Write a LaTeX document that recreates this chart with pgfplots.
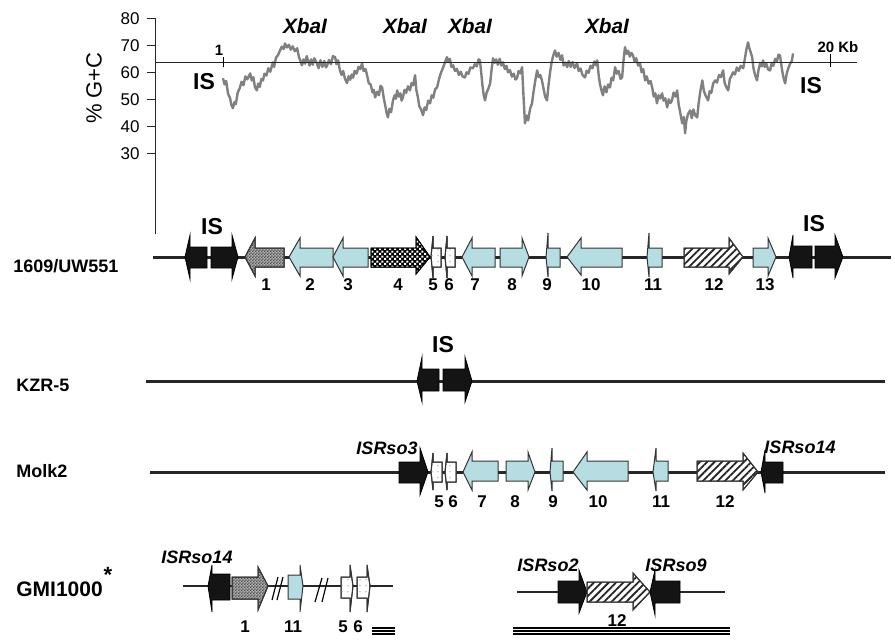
\documentclass[border=0pt]{standalone}
\usepackage{fontspec}
\setmainfont{Liberation Sans}
\usepackage{pgfplots}
\pgfplotsset{compat=1.18}
\usetikzlibrary{patterns,patterns.meta}
\definecolor{lblue}{RGB}{182,222,226}
\definecolor{gctrace}{RGB}{128,128,128}
\pgfdeclarepatternformonly{wcheck}{\pgfpointorigin}{\pgfqpoint{2.4pt}{2.4pt}}{\pgfqpoint{2.4pt}{2.4pt}}{%
  \pgfpathrectangle{\pgfpointorigin}{\pgfqpoint{1.1pt}{1.1pt}}%
  \pgfpathrectangle{\pgfqpoint{1.2pt}{1.2pt}}{\pgfqpoint{1.1pt}{1.1pt}}%
  \pgfusepath{fill}}
\pgfdeclarepatternformonly{fcheck}{\pgfpointorigin}{\pgfqpoint{1.4pt}{1.4pt}}{\pgfqpoint{1.4pt}{1.4pt}}{%
  \pgfpathrectangle{\pgfpointorigin}{\pgfqpoint{0.7pt}{0.7pt}}%
  \pgfpathrectangle{\pgfqpoint{0.7pt}{0.7pt}}{\pgfqpoint{0.7pt}{0.7pt}}%
  \pgfusepath{fill}}
% gene arrow: style, x tail, x head base, x tip, y head top, y body top, y centre, y body bottom, y head bottom
\newcommand{\gene}[9]{\addplot[#1] coordinates {(#2,#6) (#3,#6) (#3,#5) (#4,#7) (#3,#9) (#3,#8) (#2,#8)} -- cycle;}
\tikzset{
 isel/.style={fill=black!92, draw=black, line width=0.4pt},
 blu/.style={fill=lblue, draw=black!80, line width=0.5pt},
 chk/.style={draw=black, line width=0.5pt, preaction={fill=black}, pattern=wcheck, pattern color=white},
 grychk/.style={draw=black!80, line width=0.5pt, preaction={fill=gray!60}, pattern=fcheck, pattern color=black!70},
 dotw/.style={draw=black!80, line width=0.5pt, preaction={fill=white}, pattern=dots, pattern color=gray!40},
 hat/.style={draw=black!80, line width=0.5pt, preaction={fill=white}, pattern={Lines[angle=45,distance=2.6pt,line width=0.9pt]}, pattern color=black!85},
 rowlab/.style={anchor=west, inner sep=0pt, font=\bfseries\fontsize{9}{11}\selectfont},
 num/.style={font=\bfseries\fontsize{8.5}{10}\selectfont},
 isl/.style={font=\bfseries\fontsize{11.5}{13}\selectfont},
 isr/.style={font=\bfseries\itshape\fontsize{9}{11}\selectfont},
}
\pgfplotstableread{
kb gc
1.00 57.8
1.05 55.5
1.10 56.8
1.16 52.0
1.22 50.5
1.26 48.0
1.31 46.7
1.36 49.0
1.40 48.2
1.46 52.5
1.52 54.0
1.58 56.5
1.64 55.2
1.70 58.5
1.76 57.4
1.85 59.6
1.90 57.0
1.95 58.2
2.00 54.5
2.06 53.3
2.10 55.8
2.15 54.6
2.20 57.5
2.25 57.0
2.30 59.5
2.36 58.8
2.42 61.5
2.48 60.2
2.56 63.7
2.60 62.0
2.66 65.5
2.72 66.3
2.78 68.0
2.84 69.5
2.90 68.6
2.94 70.7
3.00 69.2
3.06 70.2
3.12 68.4
3.18 69.6
3.25 67.8
3.32 68.9
3.38 65.5
3.43 64.0
3.47 62.6
3.52 64.8
3.57 63.2
3.62 66.0
3.66 64.4
3.71 62.5
3.76 64.8
3.81 62.8
3.86 65.2
3.94 63.3
3.99 61.5
4.05 64.5
4.11 62.0
4.17 64.2
4.22 61.8
4.26 62.6
4.32 64.6
4.38 63.0
4.44 66.0
4.51 65.6
4.55 63.0
4.60 64.5
4.66 60.7
4.71 59.0
4.76 60.5
4.82 57.5
4.88 56.0
4.93 58.6
4.98 57.2
5.03 59.2
5.07 58.0
5.12 60.5
5.18 59.5
5.24 62.0
5.30 61.2
5.35 63.3
5.40 60.5
5.46 61.2
5.51 58.9
5.56 56.0
5.62 55.5
5.68 52.5
5.72 53.5
5.76 50.7
5.82 52.8
5.88 51.5
5.93 55.0
5.98 54.4
6.03 50.5
6.08 47.5
6.12 45.0
6.16 43.3
6.21 46.5
6.26 45.2
6.32 49.6
6.37 51.5
6.41 50.2
6.45 53.3
6.50 51.0
6.55 52.2
6.59 49.5
6.63 50.7
6.68 53.5
6.73 52.4
6.79 54.8
6.85 53.3
6.90 56.0
6.95 55.2
7.01 58.9
7.05 53.5
7.10 50.7
7.14 47.5
7.20 46.2
7.26 44.1
7.31 47.0
7.36 46.0
7.42 49.5
7.48 48.5
7.53 51.5
7.58 50.6
7.64 53.8
7.70 54.4
7.76 57.5
7.82 59.8
7.88 61.5
7.94 63.5
8.01 65.6
8.05 63.8
8.10 65.0
8.15 62.0
8.20 62.6
8.26 60.5
8.32 61.3
8.38 59.0
8.44 60.2
8.50 58.4
8.57 58.1
8.62 60.0
8.68 59.4
8.74 61.8
8.82 61.5
8.88 63.0
8.94 62.2
9.00 64.8
9.04 64.4
9.08 60.0
9.12 55.0
9.16 51.5
9.20 49.6
9.25 52.5
9.30 53.8
9.36 55.9
9.40 60.5
9.45 65.2
9.50 63.5
9.55 64.8
9.60 62.8
9.66 65.0
9.71 62.5
9.76 63.7
9.82 61.2
9.87 62.4
9.92 60.0
9.98 60.8
10.04 58.4
10.10 59.5
10.15 57.3
10.20 57.8
10.25 60.5
10.30 59.6
10.36 61.9
10.40 52.0
10.45 41.1
10.50 44.0
10.55 42.2
10.61 46.5
10.67 48.5
10.72 53.0
10.78 57.5
10.83 60.7
10.88 58.2
10.93 59.0
10.98 57.0
11.03 54.0
11.08 51.0
11.14 49.6
11.18 54.5
11.23 59.6
11.28 63.5
11.33 66.0
11.39 68.1
11.44 65.8
11.50 67.2
11.56 64.6
11.61 66.3
11.66 62.5
11.72 63.6
11.77 61.9
11.82 64.2
11.88 62.0
11.94 63.8
12.00 61.6
12.08 63.3
12.13 60.5
12.19 61.4
12.25 59.0
12.33 58.1
12.38 60.6
12.44 59.8
12.50 62.4
12.56 61.5
12.62 64.0
12.67 62.6
12.71 64.4
12.76 58.5
12.80 55.5
12.85 53.0
12.89 51.5
12.94 54.8
13.00 52.6
13.05 55.5
13.11 54.4
13.16 58.0
13.21 57.0
13.27 61.9
13.32 59.5
13.38 60.5
13.44 57.6
13.49 58.1
13.53 64.0
13.58 69.3
13.63 66.8
13.68 68.0
13.73 65.8
13.78 67.2
13.83 66.3
13.88 64.0
13.93 65.2
13.99 62.5
14.05 63.3
14.10 60.0
14.15 61.2
14.21 57.0
14.26 58.5
14.32 55.8
14.38 56.8
14.43 54.4
14.48 51.0
14.53 52.2
14.58 48.5
14.63 51.5
14.68 50.3
14.74 52.2
14.79 49.5
14.84 50.4
14.90 47.0
14.95 50.0
15.00 48.6
15.05 49.6
15.10 52.5
15.16 51.0
15.21 53.3
15.26 48.0
15.31 45.0
15.37 41.1
15.42 43.5
15.46 37.4
15.50 42.0
15.55 44.5
15.62 45.9
15.67 43.0
15.72 46.2
15.78 44.0
15.84 43.3
15.88 48.0
15.93 52.5
16.00 57.0
16.05 53.0
16.10 51.5
16.18 49.6
16.23 53.0
16.28 52.4
16.34 55.9
16.40 57.0
16.46 56.2
16.52 59.0
16.58 58.2
16.65 60.7
16.70 56.0
16.75 54.5
16.81 53.3
16.86 57.5
16.91 58.6
16.96 60.0
17.02 59.2
17.08 61.8
17.14 60.5
17.20 62.4
17.28 61.5
17.33 65.0
17.38 68.5
17.43 71.1
17.47 69.0
17.51 67.5
17.56 65.6
17.60 61.5
17.65 59.0
17.71 57.0
17.76 61.0
17.81 63.5
17.86 62.2
17.90 64.4
17.95 62.0
18.00 63.2
18.06 61.0
18.12 60.7
18.17 63.5
18.22 62.4
18.28 65.0
18.33 63.8
18.38 66.5
18.43 66.3
18.48 62.0
18.53 58.5
18.59 55.9
18.64 59.5
18.69 61.5
18.75 63.3
18.80 64.2
18.84 67.0
}\gcdata
\begin{document}
\begin{tikzpicture}
% ---------- gene maps, in picture pixel units ----------
\begin{axis}[name=base, at={(0pt,0pt)}, anchor=south west, scale only axis,
  width=447.5pt, height=319pt, xmin=0, xmax=895, ymin=0, ymax=638,
  y dir=reverse, hide axis, clip=false]
\addplot[draw=none] coordinates {(0,0) (895,638)};
% backbone lines
\addplot[black!85, line width=1.5pt] coordinates {(153,257) (891,257)};
\addplot[black!85, line width=1.5pt] coordinates {(146,381) (885,381)};
\addplot[black!85, line width=1.5pt] coordinates {(150,472) (885,472)};
\addplot[black!85, line width=1pt] coordinates {(183,586) (393,586)};
\addplot[black!85, line width=1pt] coordinates {(517,592) (725,592)};
% triple scale lines
\addplot[black, line width=0.7pt] coordinates {(372,628) (395,628)};
\addplot[black, line width=0.7pt] coordinates {(372,631) (395,631)};
\addplot[black, line width=0.7pt] coordinates {(372,634) (395,634)};
\addplot[black, line width=0.7pt] coordinates {(513,628) (730,628)};
\addplot[black, line width=0.7pt] coordinates {(513,631) (730,631)};
\addplot[black, line width=0.7pt] coordinates {(513,634) (730,634)};
% row 1: 1609/UW551
\gene{isel}{207}{190}{185}{235}{247}{257}{268}{279}
\gene{isel}{211}{232}{238}{235}{247}{257}{268}{279}
\gene{grychk}{284}{255}{245}{238}{248}{257}{267}{276}
\gene{blu}{333}{300}{289}{238}{248}{257}{267}{276}
\gene{blu}{368}{343}{333}{238}{248}{257}{267}{276}
\gene{chk}{371}{416}{430}{237}{248}{257}{267}{274}
\gene{dotw}{441}{433}{431}{236}{248}{257}{267}{278}
\gene{dotw}{455}{447}{445}{236}{248}{257}{267}{278}
\gene{blu}{495}{472}{462}{238}{248}{257}{267}{276}
\gene{blu}{500}{522}{529}{238}{248}{257}{267}{276}
\gene{blu}{560}{548}{546}{233}{248}{257}{267}{277}
\gene{blu}{622}{581}{567}{238}{248}{257}{267}{275}
\gene{blu}{662}{649}{647}{233}{248}{257}{267}{277}
\gene{hat}{684}{729}{743}{238}{248}{257}{267}{274}
\gene{blu}{753}{768}{776}{238}{248}{257}{267}{276}
\gene{isel}{812}{793}{789}{235}{246}{257}{268}{278}
\gene{isel}{815}{835}{843}{235}{246}{257}{268}{278}
% row 2: KZR-5
\gene{isel}{439}{422}{417}{357}{369}{381}{391}{402}
\gene{isel}{443}{465}{472}{357}{369}{381}{391}{402}
% row 3: Molk2
\gene{isel}{399}{420}{428}{448}{462}{472}{483}{495}
\gene{dotw}{442}{433}{431}{453}{462}{472}{482}{490}
\gene{dotw}{456}{447}{445}{453}{462}{472}{482}{490}
\gene{blu}{498}{472}{463}{452}{461}{472}{481}{490}
\gene{blu}{506}{528}{535}{452}{461}{472}{481}{490}
\gene{blu}{563}{552}{550}{448}{461}{472}{481}{491}
\gene{blu}{628}{587}{573}{452}{461}{472}{481}{490}
\gene{blu}{668}{656}{653}{448}{461}{472}{481}{491}
\gene{hat}{697}{743}{758}{453}{461}{472}{481}{490}
\gene{isel}{783}{765}{761}{450}{462}{472}{483}{493}
% row 4: GMI1000
\gene{isel}{230}{212}{208}{565}{574}{586}{600}{612}
\gene{grychk}{232}{258}{268}{567}{577}{586}{599}{610}
\gene{blu}{288}{300}{303}{565}{575}{586}{599}{612}
\gene{dotw}{341}{350}{353}{565}{577}{586}{598}{612}
\gene{dotw}{357}{367}{370}{565}{577}{586}{598}{612}
\addplot[black, line width=0.6pt] coordinates {(272,600) (278,577)};
\addplot[black, line width=0.6pt] coordinates {(277,600) (283,577)};
\addplot[black, line width=0.6pt] coordinates {(315,602) (322,578)};
\addplot[black, line width=0.6pt] coordinates {(322,602) (328,578)};
\gene{isel}{558}{579}{587}{570}{581}{592}{603}{613}
\gene{hat}{587}{633}{650}{573}{582}{592}{602}{610}
\gene{isel}{680}{655}{650}{570}{581}{592}{603}{615}
% ---------- text ----------
\node[rotate=90, font=\fontsize{11}{13}\selectfont] at (axis cs:94,88) {\% G+C};
\node[font=\bfseries\itshape\fontsize{10.4}{12}\selectfont] at (axis cs:305,26) {XbaI};
\node[font=\bfseries\itshape\fontsize{10.4}{12}\selectfont] at (axis cs:405,26) {XbaI};
\node[font=\bfseries\itshape\fontsize{10.4}{12}\selectfont] at (axis cs:470,26) {XbaI};
\node[font=\bfseries\itshape\fontsize{10.4}{12}\selectfont] at (axis cs:607,26) {XbaI};
\node[font=\bfseries\fontsize{7.5}{9}\selectfont] at (axis cs:219,50) {1};
\node[font=\bfseries\fontsize{7.5}{9}\selectfont] at (axis cs:838,47) {20 Kb};
\node[isl] at (axis cs:204,82) {IS};
\node[isl] at (axis cs:811,86) {IS};
\node[isl] at (axis cs:212,227) {IS};
\node[isl] at (axis cs:814,224) {IS};
\node[isl] at (axis cs:443,345) {IS};
\node[rowlab] at (axis cs:13,266) {1609/UW551};
\node[rowlab] at (axis cs:16,385) {KZR-5};
\node[rowlab] at (axis cs:16,471) {Molk2};
\node[rowlab, font=\bfseries\fontsize{10.5}{12}\selectfont] at (axis cs:16,589) {GMI1000};
\node[font=\bfseries\fontsize{11}{12}\selectfont] at (axis cs:108,575) {*};
\node[num] at (axis cs:266,285) {1};
\node[num] at (axis cs:310,285) {2};
\node[num] at (axis cs:348,285) {3};
\node[num] at (axis cs:398,285) {4};
\node[num] at (axis cs:433,285) {5};
\node[num] at (axis cs:449,285) {6};
\node[num] at (axis cs:475,285) {7};
\node[num] at (axis cs:512,285) {8};
\node[num] at (axis cs:547,285) {9};
\node[num] at (axis cs:591,285) {10};
\node[num] at (axis cs:653,285) {11};
\node[num] at (axis cs:714,285) {12};
\node[num] at (axis cs:765,285) {13};
\node[num] at (axis cs:439,502) {5};
\node[num] at (axis cs:453,502) {6};
\node[num] at (axis cs:482,502) {7};
\node[num] at (axis cs:515,502) {8};
\node[num] at (axis cs:553,502) {9};
\node[num] at (axis cs:598,502) {10};
\node[num] at (axis cs:661,502) {11};
\node[num] at (axis cs:725,502) {12};
\node[isr] at (axis cs:387,448) {ISRso3};
\node[isr] at (axis cs:800,447) {ISRso14};
\node[isr] at (axis cs:197,557) {ISRso14};
\node[isr] at (axis cs:548,565) {ISRso2};
\node[isr] at (axis cs:676,565) {ISRso9};
\node[num] at (axis cs:245,627) {1};
\node[num] at (axis cs:293,627) {11};
\node[num] at (axis cs:343,627) {5};
\node[num] at (axis cs:358,627) {6};
\node[num] at (axis cs:617,621) {12};
\end{axis}
% ---------- G+C profile ----------
\begin{axis}[at={(77.85pt,201.85pt)}, anchor=south west, scale only axis,
  width=350.65pt, height=108pt, xmin=-1.106, xmax=20.84, ymin=0, ymax=80,
  axis x line=none, axis y line*=left, ytick={30,40,50,60,70,80},
  tick align=outside, major tick length=4.5pt,
  y axis line style={line width=0.6pt, black!85},
  ytick style={line width=0.6pt, black!85},
  yticklabel style={font=\fontsize{8.5}{10}\selectfont},
  /pgf/number format/assume math mode=true, clip=false]
\addplot[gctrace, line width=1.2pt, line join=round] table[x=kb, y=gc] {\gcdata};
\addplot[black!85, line width=0.6pt] coordinates {(-1.106,63.7) (20.84,63.7)};
\addplot[black, line width=0.5pt] coordinates {(1,61.8) (1,65.8)};
\addplot[black, line width=0.5pt] coordinates {(20,61.9) (20,66.8)};
\end{axis}
\end{tikzpicture}
\end{document}
